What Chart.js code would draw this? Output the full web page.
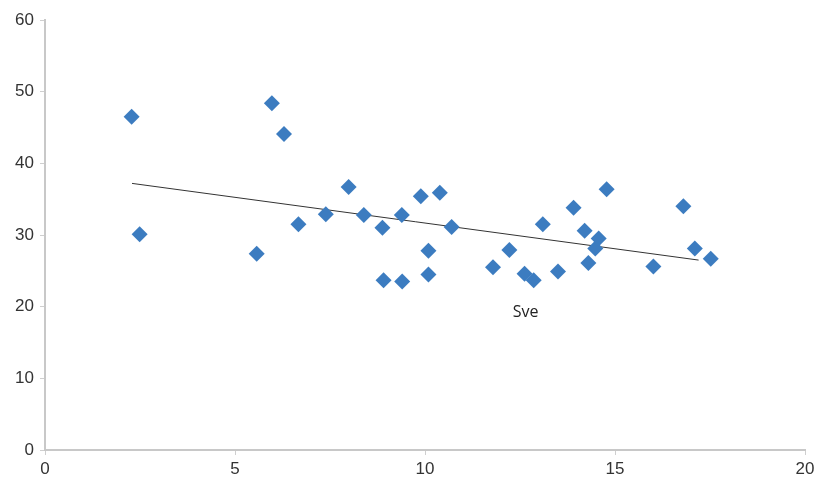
<!DOCTYPE html>
<html lang="en">
  <head>
    <meta charset="UTF-8" />
    <title>Sve scatter</title>
    <script src="https://cdn.jsdelivr.net/npm/chart.js@4.4.1/dist/chart.umd.min.js"></script>
    <style>
      html, body { margin: 0; padding: 0; background: #fff; }
      #wrap { width: 815px; height: 486px; }
    </style>
  </head>
  <body>
    <div id="wrap"><canvas id="chart"></canvas></div>
    <script>
      // points
      const xValues = [2.28, 2.49, 5.57, 5.97, 6.29, 6.67, 7.39, 7.99, 8.39, 8.88, 8.91,
        9.40, 9.39, 9.89, 10.09, 10.09, 10.39, 10.70, 11.79, 12.22, 12.62, 12.86,
        13.10, 13.50, 13.91, 14.20, 14.30, 14.48, 14.57, 14.78, 16.01, 16.80, 17.10, 17.52];
      const yValues = [46.5, 30.1, 27.4, 48.4, 44.1, 31.5, 32.9, 36.7, 32.8, 31.0, 23.7,
        23.5, 32.8, 35.4, 27.8, 24.5, 35.9, 31.1, 25.5, 27.9, 24.6, 23.7,
        31.5, 24.9, 33.8, 30.6, 26.1, 28.1, 29.5, 36.4, 25.6, 34.0, 28.1, 26.7];
      const trendX = [2.29, 17.2];
      const trendY = [37.2, 26.5];
      const xTicks = [0, 5, 10, 15, 20];
      const yTicks = [0, 10, 20, 30, 40, 50, 60];
      const seriesLabel = 'Sve';
      const labelAt = { x: 12.65, y: 19.2 };

      const points = xValues.map((x, i) => ({ x: x, y: yValues[i] }));
      const trend = trendX.map((x, i) => ({ x: x, y: trendY[i] }));

      const labelPlugin = {
        id: 'seriesLabel',
        afterDatasetsDraw(chart) {
          const { ctx, scales } = chart;
          ctx.save();
          ctx.font = '16px "Open Sans", sans-serif';
          ctx.fillStyle = '#222';
          ctx.textAlign = 'center';
          ctx.textBaseline = 'middle';
          ctx.fillText(seriesLabel, scales.x.getPixelForValue(labelAt.x), scales.y.getPixelForValue(labelAt.y));
          ctx.restore();
        }
      };

      const tickFont = { family: '"Liberation Sans", Arial, sans-serif', size: 17 };

      new Chart(document.getElementById('chart'), {
        type: 'scatter',
        data: {
          datasets: [
            {
              label: seriesLabel,
              data: points,
              pointStyle: 'rectRot',
              pointRadius: 8,
              pointHoverRadius: 8,
              backgroundColor: '#3c7cc0',
              borderColor: '#3c7cc0',
              borderWidth: 0,
            },
            {
              label: 'trend',
              data: trend,
              showLine: true,
              pointRadius: 0,
              borderColor: '#333',
              borderWidth: 1,
              fill: false,
            },
          ],
        },
        options: {
          responsive: true,
          maintainAspectRatio: false,
          animation: false,
          layout: { padding: { top: 20, right: 10, left: 0, bottom: 0 } },
          plugins: { legend: { display: false }, tooltip: { enabled: false } },
          scales: {
            x: {
              type: 'linear',
              min: 0,
              max: 20,
              afterBuildTicks: (s) => { s.ticks = xTicks.map((v) => ({ value: v })); },
              afterFit: (s) => { s.height = 36; s.paddingRight = 0; s.paddingLeft = 0; },
              grid: { display: true, drawOnChartArea: false, drawTicks: true, tickLength: 5, color: '#cfcfcf' },
              border: { display: true, color: '#c8c8c8', width: 2 },
              ticks: { color: '#333', font: tickFont, padding: 4, maxRotation: 0 },
            },
            y: {
              type: 'linear',
              min: 0,
              max: 60,
              afterBuildTicks: (s) => { s.ticks = yTicks.map((v) => ({ value: v })); },
              afterFit: (s) => { s.width = 45; },
              grid: { display: true, drawOnChartArea: false, drawTicks: true, tickLength: 5, color: '#cfcfcf' },
              border: { display: true, color: '#c8c8c8', width: 2 },
              ticks: { color: '#333', font: tickFont, padding: 6 },
            },
          },
        },
        plugins: [labelPlugin],
      });
    </script>
  </body>
</html>
